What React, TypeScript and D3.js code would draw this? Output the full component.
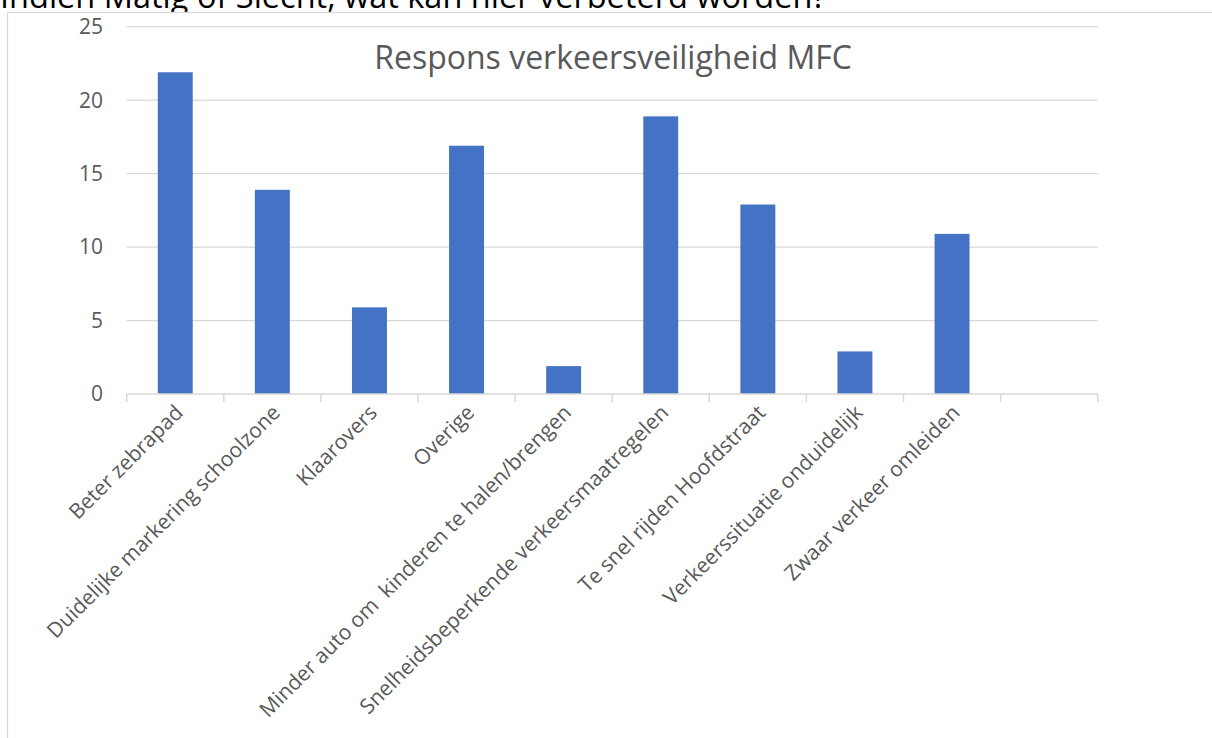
import React from "react";
import * as d3 from "d3";

const categories = [
  "Beter zebrapad",
  "Duidelijke markering schoolzone",
  "Klaarovers",
  "Overige",
  "Minder auto om  kinderen te halen/brengen",
  "Snelheidsbeperkende verkeersmaatregelen",
  "Te snel rijden Hoofdstraat",
  "Verkeerssituatie onduidelijk",
  "Zwaar verkeer omleiden",
  "",
];
const values = [22, 14, 6, 17, 2, 19, 13, 3, 11, null];
const yTicks = [0, 5, 10, 15, 20, 25];
const chartTitle = "Respons verkeersveiligheid MFC";
const questionText = "Indien Matig of Slecht, wat kan hier verbeterd worden?";

const W = 1212;
const H = 738;
const FONT = "'Open Sans', 'Segoe UI', sans-serif";

export default function App() {
  const x = d3
    .scaleBand<string>()
    .domain(categories.map((c, i) => String(i)))
    .range([126.7, 1097.7])
    .paddingInner(0.64)
    .paddingOuter(0.32);
  const step = x.step();
  const left = 126.7;
  const right = 1097.7;
  const y = d3.scaleLinear().domain([0, 25]).range([394, 26.7]);

  return (
    <svg
      width={W}
      height={H}
      style={{ position: "absolute", left: 0, top: 0, background: "#fff" }}
    >
      <rect x={0} y={0} width={W} height={H} fill="#fff" />
      <text x={0} y={8} fontFamily={FONT} fontSize={32.5} fill="#000">
        {questionText}
      </text>
      <rect
        x={7.5}
        y={12.5}
        width={W + 20}
        height={H + 20}
        fill="#fff"
        stroke="#d9d9d9"
        strokeWidth={1.3}
      />
      {yTicks.map((t) => (
        <g key={t}>
          {t > 0 && (
            <line
              x1={left}
              x2={right}
              y1={y(t)}
              y2={y(t)}
              stroke="#d9d9d9"
              strokeWidth={1.3}
            />
          )}
          <text
            x={103}
            y={y(t)}
            dy="0.35em"
            textAnchor="end"
            fontFamily={FONT}
            fontSize={21}
            fill="#595959"
          >
            {t}
          </text>
        </g>
      ))}
      {values.map((v, i) =>
        v == null ? null : (
          <rect
            key={i}
            x={x(String(i))}
            y={y(v) + 1.5}
            width={x.bandwidth()}
            height={y(0) - y(v) - 1.5}
            fill="#4472c4"
          />
        )
      )}
      <line
        x1={left}
        x2={right}
        y1={y(0)}
        y2={y(0)}
        stroke="#d9d9d9"
        strokeWidth={1.5}
      />
      {d3.range(categories.length + 1).map((i) => (
        <line
          key={i}
          x1={left + i * step}
          x2={left + i * step}
          y1={y(0)}
          y2={y(0) + 8}
          stroke="#d9d9d9"
          strokeWidth={1.5}
        />
      ))}
      {categories.map((c, i) => {
        const cx = (x(String(i)) as number) + x.bandwidth() / 2;
        const tx = cx + 9;
        const ty = 414;
        return (
          <text
            key={i}
            transform={`translate(${tx},${ty}) rotate(-45)`}
            textAnchor="end"
            fontFamily={FONT}
            fontSize={21}
            fill="#595959"
            style={{ whiteSpace: "pre" }}
          >
            {c}
          </text>
        );
      })}
      <text
        x={613}
        y={69}
        textAnchor="middle"
        fontFamily={FONT}
        fontSize={32}
        fill="#595959"
      >
        {chartTitle}
      </text>
    </svg>
  );
}
